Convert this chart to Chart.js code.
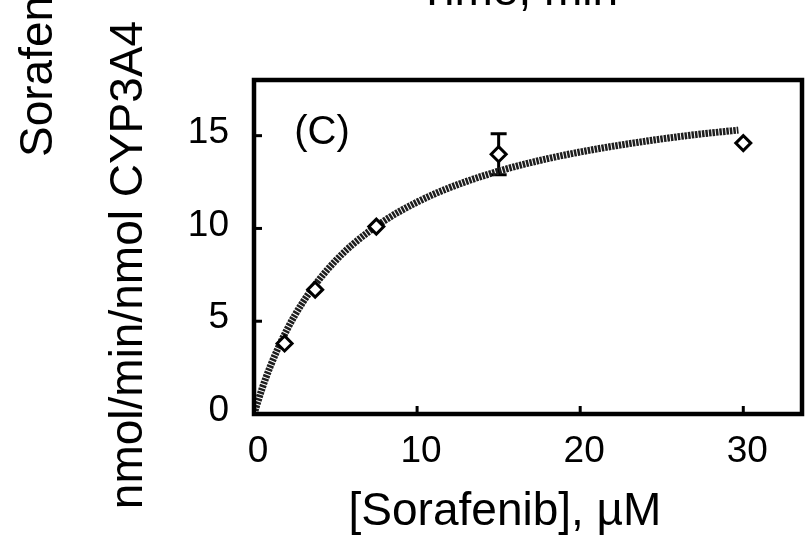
<!DOCTYPE html>
<html>
<head>
<meta charset="utf-8">
<script src="https://cdn.jsdelivr.net/npm/chart.js@4.4.0/dist/chart.umd.min.js"></script>
<style>
  html, body { margin: 0; padding: 0; background: #fff; }
</style>
</head>
<body>
<canvas id="kinetics" width="807" height="543"></canvas>
<script>
// --- Data ---
// measured rates (diamonds)
const sorafenibConc = [1.875, 3.75, 7.5, 15, 30];
const rate = [3.8, 6.7, 10.1, 14.0, 14.6];
const rateErr = [0, 0, 0, 1.1, 0];

// fitted Michaelis-Menten curve
const fitConc = [0, 0.5, 1, 2, 3, 4, 5, 6, 8, 10, 12, 15, 18, 21, 24, 27, 29.7];
const fitRate = [0, 1.38, 2.57, 4.51, 6.03, 7.25, 8.26, 9.10, 10.42, 11.42, 12.20, 13.09, 13.76, 14.28, 14.70, 15.05, 15.30];

const xTicks = [0, 10, 20, 30];
const yTicks = [0, 5, 10, 15];

const FONT = 'Liberation Sans, Arial, sans-serif';
Chart.defaults.font.family = FONT;
Chart.defaults.color = '#000';

// --- Plugins ---
// frame around the plot plus short inward tick marks
const framePlugin = {
    id: 'frame',
    afterDraw(chart) {
        const { ctx, chartArea: a, scales } = chart;
        ctx.save();
        ctx.strokeStyle = '#000';
        ctx.lineWidth = 3;
        xTicks.forEach(v => {
            const px = scales.x.getPixelForValue(v);
            ctx.beginPath();
            ctx.moveTo(px, a.bottom);
            ctx.lineTo(px, a.bottom - 8);
            ctx.stroke();
        });
        yTicks.forEach(v => {
            const py = scales.y.getPixelForValue(v);
            ctx.beginPath();
            ctx.moveTo(a.left, py);
            ctx.lineTo(a.left + 8, py);
            ctx.stroke();
        });
        ctx.lineWidth = 4.5;
        ctx.strokeRect(a.left, a.top, a.right - a.left, a.bottom - a.top);
        ctx.restore();
    }
};

// vertical error bars behind the diamonds
const errorBarPlugin = {
    id: 'errorBars',
    beforeDatasetsDraw(chart) {
        const { ctx, scales } = chart;
        const meta = chart.getDatasetMeta(0);
        ctx.save();
        ctx.strokeStyle = '#000';
        ctx.lineWidth = 3;
        rateErr.forEach((err, i) => {
            if (!err) return;
            const px = meta.data[i].x;
            const top = scales.y.getPixelForValue(rate[i] + err);
            const bot = scales.y.getPixelForValue(rate[i] - err);
            ctx.beginPath();
            ctx.moveTo(px, top);
            ctx.lineTo(px, bot);
            ctx.moveTo(px - 8, top);
            ctx.lineTo(px + 8, top);
            ctx.moveTo(px - 8, bot);
            ctx.lineTo(px + 8, bot);
            ctx.stroke();
        });
        ctx.restore();
    }
};

// axis titles, panel letter and neighbouring panel labels
const textPlugin = {
    id: 'panelText',
    afterDraw(chart) {
        const { ctx } = chart;
        ctx.save();
        ctx.fillStyle = '#000';
        ctx.textBaseline = 'alphabetic';

        ctx.font = '46px ' + FONT;
        ctx.textAlign = 'center';
        ctx.fillText('[Sorafenib], µM', 505, 525);
        ctx.fillText('Time, min', 518, 5);

        ctx.save();
        ctx.translate(142, 265);
        ctx.rotate(-Math.PI / 2);
        ctx.fillText('nmol/min/nmol CYP3A4', 0, 0);
        ctx.restore();

        ctx.save();
        ctx.translate(52, 157);
        ctx.rotate(-Math.PI / 2);
        ctx.textAlign = 'left';
        ctx.fillText('Sorafenib', 0, 0);
        ctx.restore();

        ctx.font = '40px ' + FONT;
        ctx.textAlign = 'center';
        ctx.fillText('(C)', 322, 144);
        ctx.restore();
    }
};

// --- Chart ---
const ctx = document.getElementById('kinetics').getContext('2d');
const chart = new Chart(ctx, {
    type: 'scatter',
    data: {
        datasets: [
            {
                label: 'measured',
                data: sorafenibConc.map((x, i) => ({ x, y: rate[i] })),
                pointStyle: 'rectRot',
                pointRadius: 7.5,
                pointBorderWidth: 3,
                pointBackgroundColor: '#fff',
                pointBorderColor: '#000',
                showLine: false
            },
            {
                label: 'fit',
                data: fitConc.map((x, i) => ({ x, y: fitRate[i] })),
                showLine: true,
                borderColor: '#1e1e1e',
                borderWidth: 7,
                borderDash: [2.5, 1],
                cubicInterpolationMode: 'monotone',
                pointRadius: 0,
                fill: false
            }
        ]
    },
    options: {
        responsive: false,
        animation: false,
        devicePixelRatio: 1,
        layout: { autoPadding: false, padding: { left: 0, right: 5, top: 80, bottom: 0 } },
        plugins: { legend: { display: false }, tooltip: { enabled: false } },
        scales: {
            x: {
                type: 'linear',
                min: 0,
                max: 33.6,
                grid: { display: false, drawTicks: false },
                border: { display: false },
                afterBuildTicks: s => { s.ticks = xTicks.map(v => ({ value: v })); },
                afterFit: s => { s.height = 129; },
                ticks: { font: { size: 37 }, padding: 16, labelOffset: 4, maxRotation: 0 }
            },
            y: {
                min: 0,
                max: 18,
                grid: { display: false, drawTicks: false },
                border: { display: false },
                afterBuildTicks: s => { s.ticks = yTicks.map(v => ({ value: v })); },
                afterFit: s => { s.width = 254; },
                ticks: { font: { size: 37 }, padding: 25, labelOffset: -3 }
            }
        }
    },
    plugins: [framePlugin, errorBarPlugin, textPlugin]
});
</script>
</body>
</html>
